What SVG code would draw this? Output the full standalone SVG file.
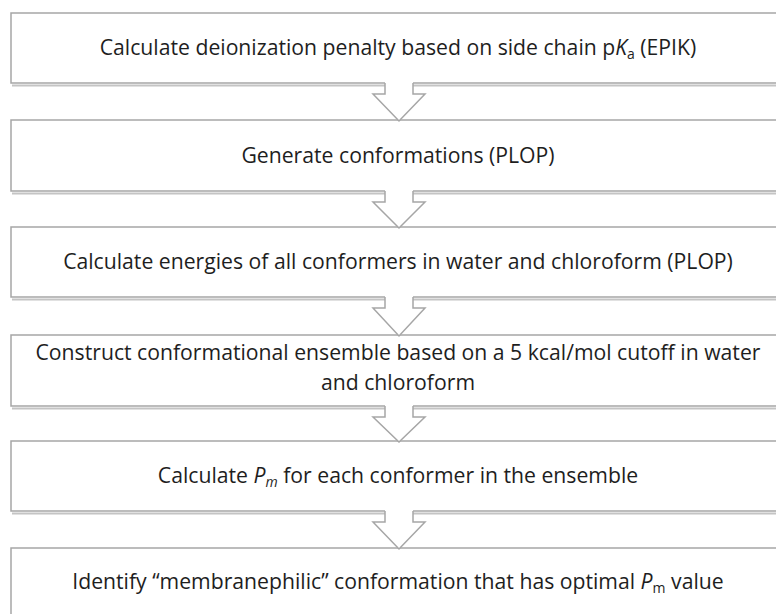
<svg xmlns="http://www.w3.org/2000/svg" width="776" height="614" viewBox="0 0 776 614">
<style>
.box{fill:#fff;stroke:#a6a6a6;stroke-width:1.5}
.shadow{fill:none;stroke:#c4c4c4;stroke-width:2}
.afill{fill:#fff;stroke:none}
.aline{fill:none;stroke:#a6a6a6;stroke-width:1.5;stroke-linejoin:miter}
text{font-family:"Open Sans","Liberation Sans",sans-serif;font-size:21.2px;fill:#1e1e1e;text-anchor:middle}
.sub{font-size:14px}
</style>
<rect width="776" height="614" fill="#fff"/>
<g id="node1">
<line class="shadow" x1="12" y1="85.5" x2="776" y2="85.5"/>
<rect class="box" x="11" y="13" width="780" height="70"/>
<text x="398" y="55">Calculate deionization penalty based on side chain p<tspan font-style="italic">K</tspan><tspan class="sub" dy="4">a</tspan><tspan dy="-4"> (EPIK)</tspan></text>
</g>
<g id="node2">
<line class="shadow" x1="12" y1="193.5" x2="776" y2="193.5"/>
<rect class="box" x="11" y="120" width="780" height="71"/>
<text x="398" y="163">Generate conformations (PLOP)</text>
</g>
<g id="node3">
<line class="shadow" x1="12" y1="299.5" x2="776" y2="299.5"/>
<rect class="box" x="11" y="227" width="780" height="70"/>
<text x="398" y="269">Calculate energies of all conformers in water and chloroform (PLOP)</text>
</g>
<g id="node4">
<line class="shadow" x1="12" y1="408.5" x2="776" y2="408.5"/>
<rect class="box" x="11" y="335" width="780" height="71"/>
<text x="398" y="360">Construct conformational ensemble based on a 5 kcal/mol cutoff in water</text>
<text x="398" y="390">and chloroform</text>
</g>
<g id="node5">
<line class="shadow" x1="12" y1="513.5" x2="776" y2="513.5"/>
<rect class="box" x="11" y="441" width="780" height="70"/>
<text x="398" y="483">Calculate <tspan font-style="italic">P</tspan><tspan class="sub" font-style="italic" dy="4">m</tspan><tspan dy="-4"> for each conformer in the ensemble</tspan></text>
</g>
<g id="node6">
<rect class="box" x="11" y="548" width="780" height="80"/>
<text x="398" y="589">Identify “membranephilic” conformation that has optimal <tspan font-style="italic">P</tspan><tspan class="sub" dy="4">m</tspan><tspan dy="-4"> value</tspan></text>
</g>
<g id="connectors">
<g transform="translate(0,83)">
<polygon class="afill" points="385,-1 413,-1 413,11 425,11 399,38 373,11 385,11"/>
<polyline class="aline" points="385,0 385,11 373,11 399,38 425,11 413,11 413,0"/>
</g>
<g transform="translate(0,191)">
<polygon class="afill" points="385,-1 413,-1 413,11 425,11 399,37 373,11 385,11"/>
<polyline class="aline" points="385,0 385,11 373,11 399,37 425,11 413,11 413,0"/>
</g>
<g transform="translate(0,297)">
<polygon class="afill" points="385,-1 413,-1 413,11 425,11 399,39 373,11 385,11"/>
<polyline class="aline" points="385,0 385,11 373,11 399,39 425,11 413,11 413,0"/>
</g>
<g transform="translate(0,406)">
<polygon class="afill" points="385,-1 413,-1 413,11 425,11 399,36 373,11 385,11"/>
<polyline class="aline" points="385,0 385,11 373,11 399,36 425,11 413,11 413,0"/>
</g>
<g transform="translate(0,511)">
<polygon class="afill" points="385,-1 413,-1 413,11 425,11 399,38 373,11 385,11"/>
<polyline class="aline" points="385,0 385,11 373,11 399,38 425,11 413,11 413,0"/>
</g>
</g>
</svg>
